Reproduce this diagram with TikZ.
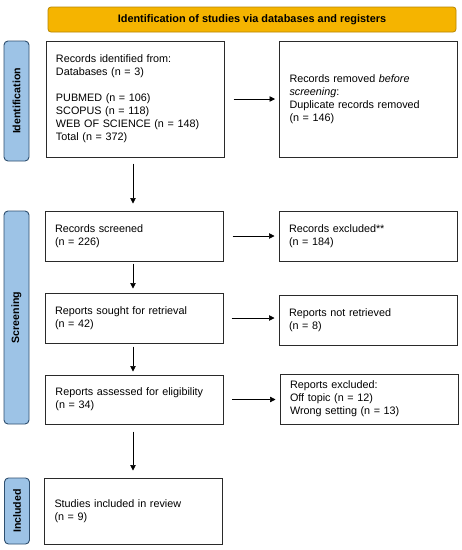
\documentclass[tikz,border=0pt]{standalone}
\usepackage{fontspec}
\setmainfont{Liberation Sans}
\usetikzlibrary{arrows.meta}
\definecolor{banfill}{HTML}{F5B400}
\definecolor{bandraw}{HTML}{B88600}
\definecolor{sidefill}{HTML}{9DC3E6}
\definecolor{sidedraw}{HTML}{2F4F6F}
\definecolor{boxdraw}{HTML}{2A2A2A}
\tikzset{
  txt/.style={font=\fontsize{10.8}{13}\selectfont},
  box/.style={txt, draw=boxdraw, line width=1pt, fill=white, align=left,
    inner xsep=10pt, inner ysep=0pt, anchor=center},
  lbox/.style={box, text width=158pt, minimum width=178pt},
  banner/.style={draw=bandraw, fill=banfill, line width=0.8pt, rounded corners=3pt,
    font=\fontsize{10.9}{13}\selectfont\bfseries, minimum width=408pt, minimum height=25pt, inner sep=0pt},
  side/.style={draw=sidedraw, fill=sidefill, line width=0.9pt, rounded corners=4pt, rotate=90,
    font=\fontsize{10.6}{13}\selectfont\bfseries, minimum height=25pt, inner sep=0pt},
  arr/.style={-{Triangle[length=5.5pt,width=5.5pt]}, line width=0.7pt, black},
}
\begin{document}
\begin{tikzpicture}[x=1pt,y=-1pt]
\useasboundingbox (0,0) rectangle (462,550);
\fill[white] (0,0) rectangle (462,550);

\node[banner] (ban) at (252,19.5) {Identification of studies via databases and registers};

\node[side, minimum width=120pt] (s1) at (16.5,101) {Identification};
\node[side, minimum width=213pt] (s2) at (16.5,317.5) {Screening};
\node[side, minimum width=66pt] (s3) at (17,511) {Included};

\node[lbox, minimum height=116pt] (b1) at (135,99) {Records identified from:\\Databases (n = 3)\\[13pt]PUBMED (n = 106)\\SCOPUS (n = 118)\\WEB OF SCIENCE (n = 148)\\Total (n = 372)};
\node[lbox, minimum height=116pt] (r1) at (368.5,99) {Records removed \textit{before}\\\textit{screening}:\\Duplicate records removed\\(n = 146)};

\node[lbox, minimum height=50pt] (b2) at (134,236) {Records screened\\(n = 226)};
\node[lbox, minimum height=50pt] (r2) at (368,236) {Records excluded**\\(n = 184)};

\node[lbox, minimum height=50pt] (b3) at (134,318) {Reports sought for retrieval\\(n = 42)};
\node[lbox, minimum height=50pt] (r3) at (368,320) {Reports not retrieved\\(n = 8)};

\node[lbox, minimum height=49pt] (b4) at (134.5,399.5) {Reports assessed for eligibility\\(n = 34)};
\node[lbox, minimum height=50pt] (r4) at (369,399) {Reports excluded:\\Off topic (n = 12)\\Wrong setting (n = 13)};

\node[lbox, minimum height=66pt] (b5) at (133.5,511) {Studies included in review\\(n = 9)};

\draw[arr, shorten <=9pt, shorten >=4pt] (b1.east) -- (b1.east -| r1.west);
\draw[arr, shorten <=9pt, shorten >=4pt] (b2.east) -- (b2.east -| r2.west);
\draw[arr, shorten <=8pt, shorten >=4pt] (b3.east) -- (b3.east -| r3.west);
\draw[arr, shorten <=8pt, shorten >=4pt] (b4.east) -- (b4.east -| r4.west);

\draw[arr, shorten <=6pt, shorten >=7pt] (b1.south -| 133,0) -- (b2.north -| 133,0);
\draw[arr, shorten <=2pt, shorten >=4pt] (b2.south -| 133,0) -- (b3.north -| 133,0);
\draw[arr, shorten <=3pt, shorten >=3pt] (b3.south -| 133,0) -- (b4.north -| 133,0);
\draw[arr, shorten <=7pt, shorten >=7pt] (b4.south -| 133,0) -- (b5.north -| 133,0);
\end{tikzpicture}
\end{document}
